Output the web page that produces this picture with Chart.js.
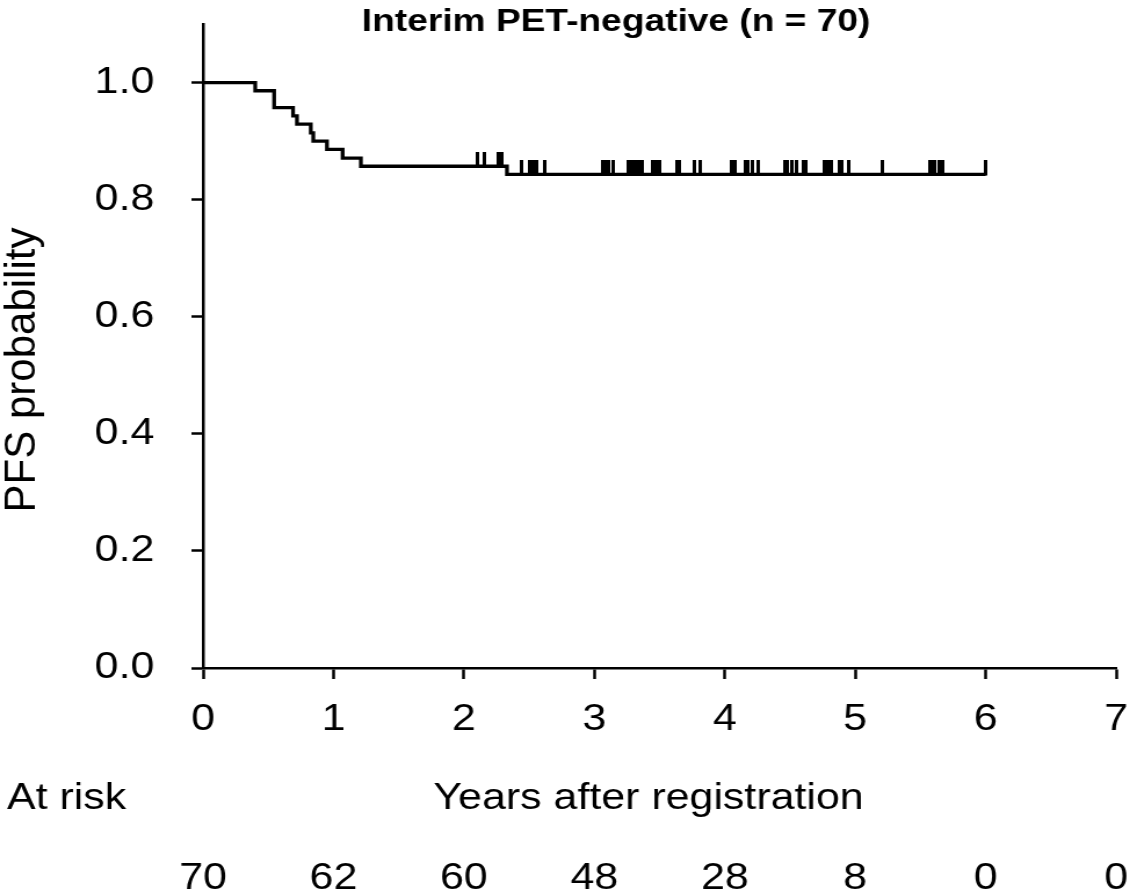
<!DOCTYPE html>
<html>
<head>
<meta charset="utf-8">
<script src="https://cdn.jsdelivr.net/npm/chart.js@4/dist/chart.umd.min.js"></script>
<style>
html, body { margin: 0; padding: 0; background: #fff; overflow: hidden; }
#km { display: block; }
</style>
</head>
<body>
<canvas id="km" width="980" height="896" style="width:1137px;height:896px"></canvas>
<script>
// KM steps (years, PFS probability)
var eventTimes = [0, 0.40, 0.545, 0.69, 0.72, 0.826, 0.845, 0.95, 1.07, 1.21, 2.33, 6.0];
var survival   = [1.0, 0.986, 0.957, 0.943, 0.929, 0.914, 0.900, 0.886, 0.871, 0.857, 0.843, 0.843];

// censored patients (tick marks)
var censorTimes = [2.10, 2.16, 2.26, 2.29,
    2.44, 2.50, 2.52, 2.54, 2.56, 2.62,
    3.06, 3.08, 3.11, 3.14, 3.26, 3.28, 3.30, 3.32, 3.34, 3.37,
    3.45, 3.47, 3.48, 3.50, 3.63, 3.65, 3.77, 3.81,
    4.05, 4.06, 4.08, 4.16, 4.18, 4.21, 4.26, 4.46, 4.48, 4.51, 4.55,
    4.60, 4.62, 4.76, 4.78, 4.80, 4.82, 4.88, 4.90, 4.95,
    5.21, 5.57, 5.59, 5.61, 5.64, 5.67, 6.0];

var xTicks = [0, 1, 2, 3, 4, 5, 6, 7];
var atRisk = [70, 62, 60, 48, 28, 8, 0, 0];

var chartTitle = 'Interim PET-negative (n = 70)';
var yTitle = 'PFS probability';
var xTitle = 'Years after registration';
var riskLabel = 'At risk';

var FONT = '"Liberation Sans", Arial, sans-serif';
var STRETCH = 1137 / 980;   // the original figure is a bit wider than its text

function levelAt(t) {
    var s = survival[0];
    for (var i = 0; i < eventTimes.length; i++) {
        if (eventTimes[i] <= t) s = survival[i];
    }
    return s;
}

var curve = eventTimes.map(function(t, i) { return {x: t, y: survival[i]}; });
var censored = censorTimes.map(function(t) { return {x: t, y: levelAt(t)}; });

// censor mark: short vertical bar sitting on top of the curve
var tickImg = document.createElement('canvas');
tickImg.width = 3;
tickImg.height = 28;
var tctx = tickImg.getContext('2d');
tctx.fillStyle = '#000';
tctx.fillRect(0, 0, 3, 15);

var textPlugin = {
    id: 'kmText',
    afterDraw: function(chart) {
        var ctx = chart.ctx;
        var xs = chart.scales.x;
        ctx.save();
        ctx.fillStyle = '#000';
        ctx.textBaseline = 'alphabetic';

        ctx.textAlign = 'center';
        ctx.font = 'bold 32px ' + FONT;
        ctx.fillText(chartTitle, 531, 31);

        ctx.font = '37px ' + FONT;
        ctx.textAlign = 'left';
        ctx.fillText(riskLabel, 6, 809);
        ctx.textAlign = 'center';
        ctx.fillText(xTitle, 559, 809);
        for (var i = 0; i < xTicks.length; i++) {
            ctx.fillText(String(atRisk[i]), xs.getPixelForValue(xTicks[i]), 889);
        }

        ctx.translate(20, 370);
        ctx.scale(1 / STRETCH, 1);
        ctx.rotate(-Math.PI / 2);
        ctx.font = '42px ' + FONT;
        ctx.textBaseline = 'middle';
        ctx.fillText(yTitle, 0, 0);
        ctx.restore();
    }
};

new Chart(document.getElementById('km'), {
    type: 'line',
    data: {
        datasets: [{
            data: curve,
            stepped: true,
            borderColor: '#000',
            borderWidth: 3.3,
            pointRadius: 0,
            fill: false
        }, {
            type: 'scatter',
            data: censored,
            pointStyle: tickImg,
            pointRadius: 5,
            showLine: false
        }]
    },
    options: {
        responsive: false,
        animation: false,
        devicePixelRatio: 1,
        layout: { padding: { top: 24, right: 18, left: 0, bottom: 0 } },
        plugins: { legend: { display: false }, tooltip: { enabled: false }, title: { display: false } },
        scales: {
            x: {
                type: 'linear',
                position: 'bottom',
                min: 0,
                max: 7,
                ticks: {
                    stepSize: 1,
                    color: '#000',
                    font: { size: 37, family: FONT },
                    padding: 19,
                    maxRotation: 0,
                    autoSkip: false,
                    callback: function(v) { return String(v); }
                },
                grid: { drawOnChartArea: false, drawTicks: true, tickLength: 11, tickWidth: 2.5, tickColor: '#000' },
                border: { display: true, color: '#000', width: 2.5 },
                afterFit: function(s) {
                    s.height = 228;
                    s.paddingLeft = 0;
                    s.paddingRight = 0;
                }
            },
            y: {
                min: 0,
                max: 1.1,
                ticks: {
                    stepSize: 0.2,
                    color: '#000',
                    font: { size: 37, family: FONT },
                    padding: 32,
                    callback: function(v) { return Number(v).toFixed(1); }
                },
                grid: { drawOnChartArea: false, drawTicks: true, tickLength: 10, tickWidth: 2.5, tickColor: '#000' },
                border: { display: true, color: '#000', width: 2.5 },
                afterBuildTicks: function(s) {
                    s.ticks = s.ticks.filter(function(t) { return t.value < 1.05; });
                },
                afterFit: function(s) {
                    s.width = 175;
                    s.paddingTop = 0;
                    s.paddingBottom = 0;
                }
            }
        }
    },
    plugins: [textPlugin]
});
</script>
</body>
</html>
